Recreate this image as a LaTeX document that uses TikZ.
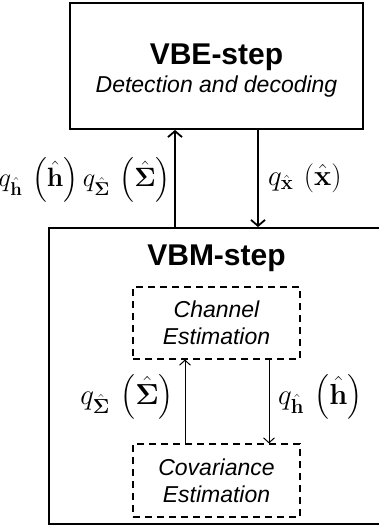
\documentclass[tikz,border=0pt]{standalone}
\usepackage{fix-cm}
\usepackage{amsmath}
\usepackage[no-math]{fontspec}
\setmainfont{Liberation Sans}
\usetikzlibrary{arrows.meta, positioning}

\newcommand{\qmsg}[2]{q_{\hat{\mathbf{#1}}}\hspace{0.2em}\left(\hat{\mathbf{#2}}\right)}

\tikzset{
  stepbox/.style={draw, line width=1.8pt, inner sep=0pt},
  estbox/.style={draw, line width=1.1pt, dash pattern=on 7pt off 5pt, inner sep=0pt,
    minimum width=167pt, align=center, font=\fontsize{23}{26}\selectfont\itshape},
  bigarrow/.style={line width=1.8pt, -{Straight Barb[length=6pt, width=14pt, line width=1.8pt]}},
  smallarrow/.style={line width=1pt, -{Straight Barb[length=5pt, width=11pt, line width=1pt]}},
  steptitle/.style={font=\fontsize{30}{34}\selectfont\bfseries, inner sep=0pt},
  mathlabel/.style={font=\fontsize{29}{32}\selectfont, inner sep=0pt}
}

\begin{document}
\begin{tikzpicture}[x=1pt, y=-1pt]
\useasboundingbox (0,0) rectangle (379,527);
\clip (0,0) rectangle (379,527);

% top block: VBE
\node[stepbox, minimum width=293pt, minimum height=126pt] (vbe) at (216.5,66) {};
\node[steptitle] (vbetitle) at (216.5,57) {VBE-step};
\node[font=\fontsize{23}{26}\selectfont\itshape, inner sep=0pt] (vbesub) at (216.5,87) {Detection and decoding};

% bottom block: VBM (runs off the right edge)
\node[stepbox, minimum width=351pt, minimum height=296pt] (vbm) at (224.5,376) {};
\node[steptitle] (vbmtitle) at (216.5,258) {VBM-step};

% inner estimation blocks
\node[estbox, minimum height=72pt] (chan) at (216.5,323) {Channel\\[1pt]Estimation};
\node[estbox, minimum height=73pt] (cov) at (216.5,480.5) {Covariance\\[1pt]Estimation};

% messages between the two steps
\draw[bigarrow] ([xshift=-41.5pt]vbe.south |- vbm.north) -- ([xshift=-41.5pt]vbe.south);
\draw[bigarrow] ([xshift=41.5pt]vbe.south) -- ([xshift=41.5pt]vbe.south |- vbm.north);
\node[mathlabel, font=\fontsize{26.5}{30}\selectfont, anchor=east] (qup) at (171,180)
  {$\qmsg{h}{h}\qmsg{\Sigma}{\Sigma}$};
\node[mathlabel, anchor=west] (qdown) at (268,178)
  {$\qmsg{x}{x}$};

% messages inside the VBM step
\draw[smallarrow] ([xshift=-31.5pt]chan.south |- cov.north) -- ([xshift=-31.5pt]chan.south);
\draw[smallarrow] ([xshift=52.5pt]chan.south) -- ([xshift=52.5pt]chan.south |- cov.north);
\node[mathlabel, anchor=east] (qsig) at (174,397)
  {$\qmsg{\Sigma}{\Sigma}$};
\node[mathlabel, anchor=west] (qh) at (278,397)
  {$\qmsg{h}{h}$};
\end{tikzpicture}
\end{document}
